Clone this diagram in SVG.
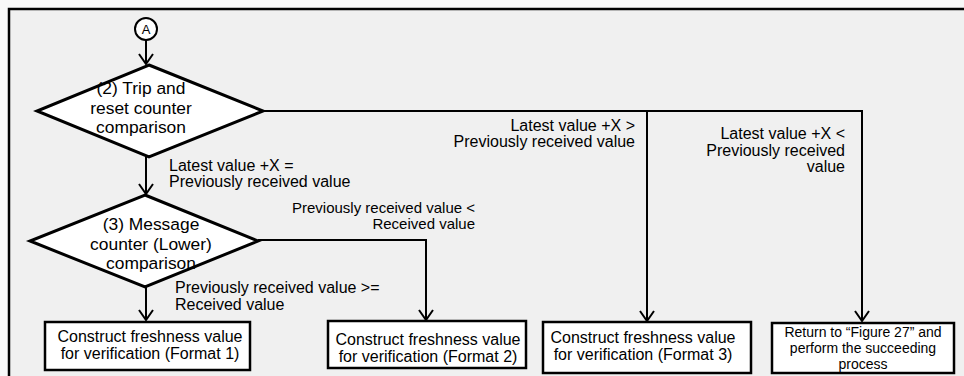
<svg xmlns="http://www.w3.org/2000/svg" width="964" height="376" viewBox="0 0 964 376">
<defs>
<marker id="arr" viewBox="-1 -8 12 16" refX="10" refY="0" markerWidth="12" markerHeight="16" markerUnits="userSpaceOnUse" orient="auto">
<path d="M0,-7 L10,0 L0,7" fill="none" stroke="#000" stroke-width="2"/>
</marker>
<style>
.t{font-family:"Liberation Sans",Arial,sans-serif;fill:#000;}
.lb{font-size:16px;}
.dt{font-size:17.4px;}
.bx{fill:#fff;stroke:#000;stroke-width:2.5;}
.dm{fill:#fff;stroke:#000;stroke-width:3;}
.cn{fill:none;stroke:#000;stroke-width:2;}
</style>
</defs>
<rect x="0" y="0" width="964" height="376" fill="#f8f8f8"/>
<rect x="9" y="9" width="960" height="372" fill="#f0f0f0"/>
<path d="M9,376 L9,9 L964,9" fill="none" stroke="#000" stroke-width="2.5"/>

<g id="connectors">
<path class="cn" d="M146,40 L146,64" marker-end="url(#arr)"/>
<path class="cn" d="M146,157 L146,194" marker-end="url(#arr)"/>
<path class="cn" d="M146,287 L146,320" marker-end="url(#arr)"/>
<path class="cn" d="M258,240 L426,240 L426,320" marker-end="url(#arr)"/>
<path class="cn" d="M263,111 L647,111 L647,321" marker-end="url(#arr)"/>
<path class="cn" d="M647,111 L862,111 L862,321" marker-end="url(#arr)"/>
<text class="t lb" x="169" y="171">Latest value +X =</text>
<text class="t lb" x="169" y="187">Previously received value</text>
<text class="t" font-size="15" x="475" y="213" text-anchor="end">Previously received value &lt;</text>
<text class="t" font-size="15" x="475" y="229" text-anchor="end">Received value</text>
<text class="t lb" x="175" y="293">Previously received value &gt;=</text>
<text class="t lb" x="175" y="310">Received value</text>
<text class="t lb" x="635" y="131" text-anchor="end">Latest value +X &gt;</text>
<text class="t lb" x="635" y="147" text-anchor="end">Previously received value</text>
<text class="t lb" x="845" y="139" text-anchor="end">Latest value +X &lt;</text>
<text class="t lb" x="845" y="156" text-anchor="end">Previously received</text>
<text class="t lb" x="845" y="172" text-anchor="end">value</text>
</g>

<g id="startA">
<circle cx="146" cy="29" r="11" fill="#fff" stroke="#000" stroke-width="2"/>
<text class="t" font-size="13" x="146" y="34" text-anchor="middle">A</text>
</g>

<g id="decision2">
<polygon class="dm" points="149,65 263,111 149,157 37,111"/>
<text class="t dt" x="141" y="94" text-anchor="middle">(2) Trip and</text>
<text class="t dt" x="141" y="113.5" text-anchor="middle">reset counter</text>
<text class="t dt" x="141" y="133" text-anchor="middle">comparison</text>
</g>

<g id="decision3">
<polygon class="dm" points="145,195 258,241 145,287 30,241"/>
<text class="t dt" x="151" y="230" text-anchor="middle">(3) Message</text>
<text class="t dt" x="151" y="249.5" text-anchor="middle">counter (Lower)</text>
<text class="t dt" x="151" y="269" text-anchor="middle">comparison</text>
</g>

<g id="format1">
<rect class="bx" x="45" y="322" width="205" height="48"/>
<text class="t lb" x="150" y="342" text-anchor="middle">Construct freshness value</text>
<text class="t lb" x="150" y="359" text-anchor="middle">for verification (Format 1)</text>
</g>

<g id="format2">
<rect class="bx" x="328" y="321" width="198" height="47"/>
<text class="t lb" x="428" y="345" text-anchor="middle">Construct freshness value</text>
<text class="t lb" x="428" y="362" text-anchor="middle">for verification (Format 2)</text>
</g>

<g id="format3">
<rect class="bx" x="543" y="322" width="208" height="51"/>
<text class="t lb" x="643" y="343" text-anchor="middle">Construct freshness value</text>
<text class="t lb" x="643" y="360" text-anchor="middle">for verification (Format 3)</text>
</g>

<g id="return27">
<rect class="bx" x="772" y="323" width="182" height="50"/>
<text class="t" font-size="14" x="863" y="337" text-anchor="middle">Return to “Figure 27” and</text>
<text class="t" font-size="14" x="863" y="353" text-anchor="middle">perform the succeeding</text>
<text class="t" font-size="14" x="863" y="369" text-anchor="middle">process</text>
</g>
</svg>
